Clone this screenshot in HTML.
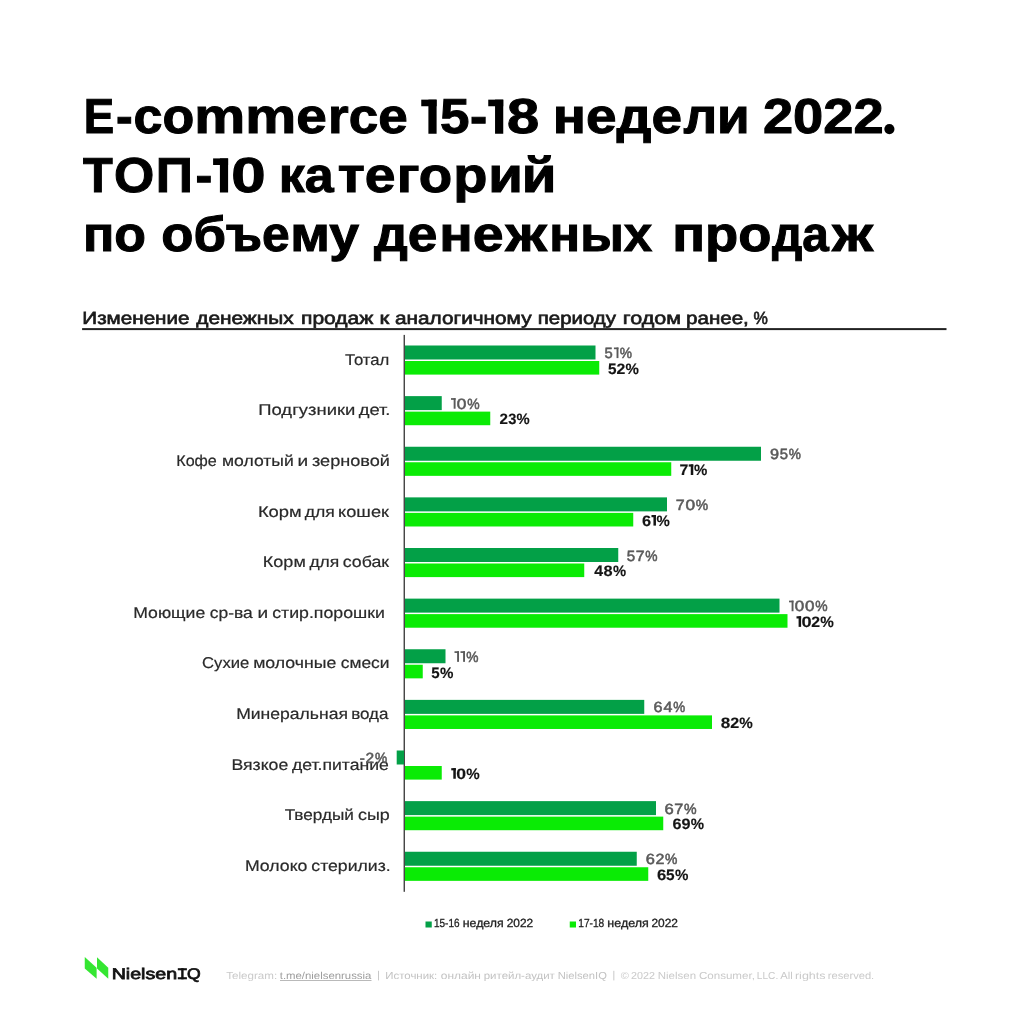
<!DOCTYPE html>
<html lang="ru"><head><meta charset="utf-8"><title>E-commerce 15-18 недели 2022</title>
<style>
html,body{margin:0;padding:0;background:#fff;}
body{width:1024px;height:1024px;overflow:hidden;font-family:"Liberation Sans",sans-serif;}
svg{display:block;will-change:transform;}
svg text{font-family:"Liberation Sans",sans-serif;text-rendering:geometricPrecision;}
</style></head><body>
<svg width="1024" height="1024" viewBox="0 0 1024 1024">
<rect width="1024" height="1024" fill="#fff"/>
<text x="83.75" y="133.45" font-size="49.2" fill="#000" textLength="30.42" lengthAdjust="spacingAndGlyphs" font-weight="bold" stroke="#000" stroke-width="1.0">E</text>
<text x="116.0" y="133.45" font-size="49.2" fill="#000" textLength="16.69" lengthAdjust="spacingAndGlyphs" font-weight="bold" stroke="#000" stroke-width="1.0">-</text>
<text x="133.5" y="133.45" font-size="49.2" fill="#000" textLength="60.72" lengthAdjust="spacingAndGlyphs" font-weight="bold" stroke="#000" stroke-width="1.0">co</text>
<text x="194.25" y="133.45" font-size="49.2" fill="#000" textLength="101.9" lengthAdjust="spacingAndGlyphs" font-weight="bold" stroke="#000" stroke-width="1.0">mm</text>
<text x="296.3" y="133.45" font-size="49.2" fill="#000" textLength="30.57" lengthAdjust="spacingAndGlyphs" font-weight="bold" stroke="#000" stroke-width="1.0">e</text>
<text x="328.1" y="133.45" font-size="49.2" fill="#000" textLength="79.66" lengthAdjust="spacingAndGlyphs" font-weight="bold" stroke="#000" stroke-width="1.0">rce</text>
<rect x="428.4" y="99.65" width="8.2" height="34.1" fill="#000"/>
<rect x="421.25" y="99.65" width="15.35" height="6.6" fill="#000"/>
<text x="440.0" y="133.45" font-size="49.2" fill="#000" textLength="29.51" lengthAdjust="spacingAndGlyphs" font-weight="bold" stroke="#000" stroke-width="1.0">5</text>
<text x="470.1" y="133.45" font-size="49.2" fill="#000" textLength="17.24" lengthAdjust="spacingAndGlyphs" font-weight="bold" stroke="#000" stroke-width="1.0">-</text>
<rect x="495.05" y="99.65" width="8.2" height="34.1" fill="#000"/>
<rect x="488.25" y="99.65" width="15.0" height="6.6" fill="#000"/>
<text x="507.0" y="133.45" font-size="49.2" fill="#000" textLength="32.18" lengthAdjust="spacingAndGlyphs" font-weight="bold" stroke="#000" stroke-width="1.0">8</text>
<text x="552.85" y="133.45" font-size="49.2" fill="#000" textLength="129.19" lengthAdjust="spacingAndGlyphs" font-weight="bold" stroke="#000" stroke-width="1.0">неде</text>
<text x="683.4" y="133.45" font-size="49.2" fill="#000" textLength="66.37" lengthAdjust="spacingAndGlyphs" font-weight="bold" stroke="#000" stroke-width="1.0">ли</text>
<text x="762.95" y="133.45" font-size="49.2" fill="#000" textLength="120.61" lengthAdjust="spacingAndGlyphs" font-weight="bold" stroke="#000" stroke-width="1.0">2022</text>
<circle cx="889.4" cy="129.1" r="5.1" fill="#000"/>
<text x="83.1" y="192.2" font-size="49.2" fill="#000" textLength="29.75" lengthAdjust="spacingAndGlyphs" font-weight="bold" stroke="#000" stroke-width="1.0">Т</text>
<text x="114.1" y="192.2" font-size="49.2" fill="#000" textLength="40.27" lengthAdjust="spacingAndGlyphs" font-weight="bold" stroke="#000" stroke-width="1.0">О</text>
<text x="155.75" y="192.2" font-size="49.2" fill="#000" textLength="37.14" lengthAdjust="spacingAndGlyphs" font-weight="bold" stroke="#000" stroke-width="1.0">П</text>
<text x="195.4" y="192.2" font-size="49.2" fill="#000" textLength="16.82" lengthAdjust="spacingAndGlyphs" font-weight="bold" stroke="#000" stroke-width="1.0">-</text>
<rect x="219.9" y="158.4" width="8.2" height="34.1" fill="#000"/>
<rect x="213.1" y="158.4" width="15.0" height="6.6" fill="#000"/>
<text x="231.35" y="192.2" font-size="49.2" fill="#000" textLength="34.36" lengthAdjust="spacingAndGlyphs" font-weight="bold" stroke="#000" stroke-width="1.0">0</text>
<text x="278.7" y="192.2" font-size="49.2" fill="#000" textLength="54.96" lengthAdjust="spacingAndGlyphs" font-weight="bold" stroke="#000" stroke-width="1.0">ка</text>
<text x="337.75" y="192.2" font-size="49.2" fill="#000" textLength="57.83" lengthAdjust="spacingAndGlyphs" font-weight="bold" stroke="#000" stroke-width="1.0">те</text>
<text x="396.75" y="192.2" font-size="49.2" fill="#000" textLength="55.54" lengthAdjust="spacingAndGlyphs" font-weight="bold" stroke="#000" stroke-width="1.0">го</text>
<text x="453.25" y="192.2" font-size="49.2" fill="#000" textLength="34.19" lengthAdjust="spacingAndGlyphs" font-weight="bold" stroke="#000" stroke-width="1.0">р</text>
<text x="488.15" y="192.2" font-size="49.2" fill="#000" textLength="34.68" lengthAdjust="spacingAndGlyphs" font-weight="bold" stroke="#000" stroke-width="1.0">и</text>
<text x="521.75" y="192.2" font-size="49.2" fill="#000" textLength="34.68" lengthAdjust="spacingAndGlyphs" font-weight="bold" stroke="#000" stroke-width="1.0">й</text>
<text x="82.9" y="251.2" font-size="49.2" fill="#000" textLength="63.01" lengthAdjust="spacingAndGlyphs" font-weight="bold" stroke="#000" stroke-width="1.0">по</text>
<text x="161.3" y="251.2" font-size="49.2" fill="#000" textLength="64.75" lengthAdjust="spacingAndGlyphs" font-weight="bold" stroke="#000" stroke-width="1.0">об</text>
<text x="225.75" y="251.2" font-size="49.2" fill="#000" textLength="63.94" lengthAdjust="spacingAndGlyphs" font-weight="bold" stroke="#000" stroke-width="1.0">ъе</text>
<text x="290.15" y="251.2" font-size="49.2" fill="#000" textLength="68.83" lengthAdjust="spacingAndGlyphs" font-weight="bold" stroke="#000" stroke-width="1.0">му</text>
<text x="374.05" y="251.2" font-size="49.2" fill="#000" textLength="63.41" lengthAdjust="spacingAndGlyphs" font-weight="bold" stroke="#000" stroke-width="1.0">де</text>
<text x="439.35" y="251.2" font-size="49.2" fill="#000" textLength="64.33" lengthAdjust="spacingAndGlyphs" font-weight="bold" stroke="#000" stroke-width="1.0">не</text>
<text x="505.4" y="251.2" font-size="49.2" fill="#000" textLength="41.29" lengthAdjust="spacingAndGlyphs" font-weight="bold" stroke="#000" stroke-width="1.0">ж</text>
<text x="549.3" y="251.2" font-size="49.2" fill="#000" textLength="102.93" lengthAdjust="spacingAndGlyphs" font-weight="bold" stroke="#000" stroke-width="1.0">ных</text>
<text x="672.25" y="251.2" font-size="49.2" fill="#000" textLength="99.27" lengthAdjust="spacingAndGlyphs" font-weight="bold" stroke="#000" stroke-width="1.0">про</text>
<text x="771.95" y="251.2" font-size="49.2" fill="#000" textLength="56.88" lengthAdjust="spacingAndGlyphs" font-weight="bold" stroke="#000" stroke-width="1.0">да</text>
<text x="832.3" y="251.2" font-size="49.2" fill="#000" textLength="40.77" lengthAdjust="spacingAndGlyphs" font-weight="bold" stroke="#000" stroke-width="1.0">ж</text>
<text x="82.35" y="323.9" font-size="17.6" fill="#1a1a1a" textLength="107.13" lengthAdjust="spacingAndGlyphs" stroke="#1a1a1a" stroke-width="0.65">Изменение</text>
<text x="196.25" y="323.9" font-size="17.6" fill="#1a1a1a" textLength="97.46" lengthAdjust="spacingAndGlyphs" stroke="#1a1a1a" stroke-width="0.65">денежных</text>
<text x="301.0" y="323.9" font-size="17.6" fill="#1a1a1a" textLength="72.39" lengthAdjust="spacingAndGlyphs" stroke="#1a1a1a" stroke-width="0.65">продаж</text>
<text x="379.5" y="323.9" font-size="17.6" fill="#1a1a1a" textLength="9.76" lengthAdjust="spacingAndGlyphs" stroke="#1a1a1a" stroke-width="0.65">к</text>
<text x="395.0" y="323.9" font-size="17.6" fill="#1a1a1a" textLength="136.56" lengthAdjust="spacingAndGlyphs" stroke="#1a1a1a" stroke-width="0.65">аналогичному</text>
<text x="537.75" y="323.9" font-size="17.6" fill="#1a1a1a" textLength="78.24" lengthAdjust="spacingAndGlyphs" stroke="#1a1a1a" stroke-width="0.65">периоду</text>
<text x="622.75" y="323.9" font-size="17.6" fill="#1a1a1a" textLength="58.24" lengthAdjust="spacingAndGlyphs" stroke="#1a1a1a" stroke-width="0.65">годом</text>
<text x="686.0" y="323.9" font-size="17.6" fill="#1a1a1a" textLength="62.84" lengthAdjust="spacingAndGlyphs" stroke="#1a1a1a" stroke-width="0.65">ранее,</text>
<text x="753.5" y="323.9" font-size="17.6" fill="#1a1a1a" textLength="14.35" lengthAdjust="spacingAndGlyphs" stroke="#1a1a1a" stroke-width="0.65">%</text>
<rect x="82.1" y="328.1" width="864.4" height="2" fill="#222"/>
<rect x="403.6" y="334.9" width="1.3" height="556.9" fill="#333"/>
<text x="345.0" y="364.7" font-size="15.6" fill="#2a2a2a" textLength="44.31" lengthAdjust="spacingAndGlyphs" stroke="#2a2a2a" stroke-width="0.2">Тотал</text>
<rect x="405" y="345.5" width="190.5" height="14.0" fill="#03A047"/>
<rect x="405" y="361.0" width="194.25" height="13.6" fill="#0AEB05"/>
<text x="604.55" y="358.1" font-size="14.8" fill="#5a5a5a" textLength="8.22" lengthAdjust="spacingAndGlyphs" stroke="#5a5a5a" stroke-width="0.55">5</text>
<rect x="616.55" y="347.5" width="1.9" height="10.6" fill="#5a5a5a"/>
<rect x="613.93" y="347.5" width="4.52" height="1.7" fill="#5a5a5a"/>
<text x="619.67" y="358.1" font-size="14.8" fill="#5a5a5a" textLength="12.23" lengthAdjust="spacingAndGlyphs" stroke="#5a5a5a" stroke-width="0.55">%</text>
<text x="608.1" y="373.75" font-size="15.1" fill="#151515" textLength="8.53" lengthAdjust="spacingAndGlyphs" font-weight="bold" stroke="#151515" stroke-width="0.15">5</text>
<text x="616.64" y="373.75" font-size="15.1" fill="#151515" textLength="8.84" lengthAdjust="spacingAndGlyphs" font-weight="bold" stroke="#151515" stroke-width="0.15">2</text>
<text x="625.53" y="373.75" font-size="15.1" fill="#151515" textLength="13.38" lengthAdjust="spacingAndGlyphs" font-weight="bold" stroke="#151515" stroke-width="0.15">%</text>
<text x="258.25" y="415.32" font-size="15.6" fill="#2a2a2a" textLength="97.18" lengthAdjust="spacingAndGlyphs" stroke="#2a2a2a" stroke-width="0.2">Подгузники</text>
<text x="358.7" y="415.32" font-size="15.6" fill="#2a2a2a" textLength="31.77" lengthAdjust="spacingAndGlyphs" stroke="#2a2a2a" stroke-width="0.2">дет.</text>
<rect x="405" y="396.12" width="36.75" height="14.0" fill="#03A047"/>
<rect x="405" y="411.62" width="85.25" height="13.6" fill="#0AEB05"/>
<rect x="453.67" y="398.13" width="1.9" height="10.6" fill="#5a5a5a"/>
<rect x="451.0" y="398.13" width="4.57" height="1.7" fill="#5a5a5a"/>
<text x="456.81" y="408.73" font-size="14.8" fill="#5a5a5a" textLength="9.61" lengthAdjust="spacingAndGlyphs" stroke="#5a5a5a" stroke-width="0.55">0</text>
<text x="467.23" y="408.73" font-size="14.8" fill="#5a5a5a" textLength="12.41" lengthAdjust="spacingAndGlyphs" stroke="#5a5a5a" stroke-width="0.55">%</text>
<text x="499.5" y="424.38" font-size="15.1" fill="#151515" textLength="8.47" lengthAdjust="spacingAndGlyphs" font-weight="bold" stroke="#151515" stroke-width="0.15">2</text>
<text x="508.17" y="424.38" font-size="15.1" fill="#151515" textLength="8.18" lengthAdjust="spacingAndGlyphs" font-weight="bold" stroke="#151515" stroke-width="0.15">3</text>
<text x="516.5" y="424.38" font-size="15.1" fill="#151515" textLength="13.16" lengthAdjust="spacingAndGlyphs" font-weight="bold" stroke="#151515" stroke-width="0.15">%</text>
<text x="176.25" y="465.95" font-size="15.6" fill="#2a2a2a" textLength="40.57" lengthAdjust="spacingAndGlyphs" stroke="#2a2a2a" stroke-width="0.2">Кофе</text>
<text x="222.0" y="465.95" font-size="15.6" fill="#2a2a2a" textLength="71.72" lengthAdjust="spacingAndGlyphs" stroke="#2a2a2a" stroke-width="0.2">молотый</text>
<text x="297.5" y="465.95" font-size="15.6" fill="#2a2a2a" textLength="10.66" lengthAdjust="spacingAndGlyphs" stroke="#2a2a2a" stroke-width="0.2">и</text>
<text x="312.0" y="465.95" font-size="15.6" fill="#2a2a2a" textLength="77.83" lengthAdjust="spacingAndGlyphs" stroke="#2a2a2a" stroke-width="0.2">зерновой</text>
<rect x="405" y="446.75" width="356" height="14.0" fill="#03A047"/>
<rect x="405" y="462.25" width="266.25" height="13.6" fill="#0AEB05"/>
<text x="770.0" y="459.35" font-size="14.8" fill="#5a5a5a" textLength="9.04" lengthAdjust="spacingAndGlyphs" stroke="#5a5a5a" stroke-width="0.55">9</text>
<text x="779.78" y="459.35" font-size="14.8" fill="#5a5a5a" textLength="8.26" lengthAdjust="spacingAndGlyphs" stroke="#5a5a5a" stroke-width="0.55">5</text>
<text x="788.83" y="459.35" font-size="14.8" fill="#5a5a5a" textLength="12.15" lengthAdjust="spacingAndGlyphs" stroke="#5a5a5a" stroke-width="0.55">%</text>
<text x="679.5" y="475.0" font-size="15.1" fill="#151515" textLength="8.84" lengthAdjust="spacingAndGlyphs" font-weight="bold" stroke="#151515" stroke-width="0.15">7</text>
<rect x="690.77" y="464.4" width="2.5" height="10.6" fill="#151515"/>
<rect x="688.72" y="464.4" width="4.55" height="2.2" fill="#151515"/>
<text x="693.95" y="475.0" font-size="15.1" fill="#151515" textLength="13.32" lengthAdjust="spacingAndGlyphs" font-weight="bold" stroke="#151515" stroke-width="0.15">%</text>
<text x="257.9" y="516.58" font-size="15.6" fill="#2a2a2a" textLength="43.79" lengthAdjust="spacingAndGlyphs" stroke="#2a2a2a" stroke-width="0.2">Корм</text>
<text x="304.75" y="516.58" font-size="15.6" fill="#2a2a2a" textLength="30.13" lengthAdjust="spacingAndGlyphs" stroke="#2a2a2a" stroke-width="0.2">для</text>
<text x="338.1" y="516.58" font-size="15.6" fill="#2a2a2a" textLength="50.84" lengthAdjust="spacingAndGlyphs" stroke="#2a2a2a" stroke-width="0.2">кошек</text>
<rect x="405" y="497.38" width="262" height="14.0" fill="#03A047"/>
<rect x="405" y="512.88" width="228.25" height="13.6" fill="#0AEB05"/>
<text x="675.75" y="509.98" font-size="14.8" fill="#5a5a5a" textLength="8.88" lengthAdjust="spacingAndGlyphs" stroke="#5a5a5a" stroke-width="0.55">7</text>
<text x="685.43" y="509.98" font-size="14.8" fill="#5a5a5a" textLength="9.61" lengthAdjust="spacingAndGlyphs" stroke="#5a5a5a" stroke-width="0.55">0</text>
<text x="695.84" y="509.98" font-size="14.8" fill="#5a5a5a" textLength="12.38" lengthAdjust="spacingAndGlyphs" stroke="#5a5a5a" stroke-width="0.55">%</text>
<text x="642.0" y="525.62" font-size="15.1" fill="#151515" textLength="9.14" lengthAdjust="spacingAndGlyphs" font-weight="bold" stroke="#151515" stroke-width="0.15">6</text>
<rect x="653.45" y="515.02" width="2.5" height="10.6" fill="#151515"/>
<rect x="651.47" y="515.02" width="4.48" height="2.2" fill="#151515"/>
<text x="656.62" y="525.62" font-size="15.1" fill="#151515" textLength="13.31" lengthAdjust="spacingAndGlyphs" font-weight="bold" stroke="#151515" stroke-width="0.15">%</text>
<text x="262.85" y="567.2" font-size="15.6" fill="#2a2a2a" textLength="42.94" lengthAdjust="spacingAndGlyphs" stroke="#2a2a2a" stroke-width="0.2">Корм</text>
<text x="309.4" y="567.2" font-size="15.6" fill="#2a2a2a" textLength="29.97" lengthAdjust="spacingAndGlyphs" stroke="#2a2a2a" stroke-width="0.2">для</text>
<text x="342.75" y="567.2" font-size="15.6" fill="#2a2a2a" textLength="46.33" lengthAdjust="spacingAndGlyphs" stroke="#2a2a2a" stroke-width="0.2">собак</text>
<rect x="405" y="548.0" width="213.25" height="14.0" fill="#03A047"/>
<rect x="405" y="563.5" width="179.25" height="13.6" fill="#0AEB05"/>
<text x="626.75" y="560.6" font-size="14.8" fill="#5a5a5a" textLength="8.41" lengthAdjust="spacingAndGlyphs" stroke="#5a5a5a" stroke-width="0.55">5</text>
<text x="635.71" y="560.6" font-size="14.8" fill="#5a5a5a" textLength="8.82" lengthAdjust="spacingAndGlyphs" stroke="#5a5a5a" stroke-width="0.55">7</text>
<text x="645.37" y="560.6" font-size="14.8" fill="#5a5a5a" textLength="12.28" lengthAdjust="spacingAndGlyphs" stroke="#5a5a5a" stroke-width="0.55">%</text>
<text x="594.25" y="576.25" font-size="15.1" fill="#151515" textLength="8.9" lengthAdjust="spacingAndGlyphs" font-weight="bold" stroke="#151515" stroke-width="0.15">4</text>
<text x="603.57" y="576.25" font-size="15.1" fill="#151515" textLength="9.08" lengthAdjust="spacingAndGlyphs" font-weight="bold" stroke="#151515" stroke-width="0.15">8</text>
<text x="612.93" y="576.25" font-size="15.1" fill="#151515" textLength="13.12" lengthAdjust="spacingAndGlyphs" font-weight="bold" stroke="#151515" stroke-width="0.15">%</text>
<text x="133.25" y="617.83" font-size="15.6" fill="#2a2a2a" textLength="71.98" lengthAdjust="spacingAndGlyphs" stroke="#2a2a2a" stroke-width="0.2">Моющие</text>
<text x="209.75" y="617.83" font-size="15.6" fill="#2a2a2a" textLength="43.01" lengthAdjust="spacingAndGlyphs" stroke="#2a2a2a" stroke-width="0.2">ср-ва</text>
<text x="257.5" y="617.83" font-size="15.6" fill="#2a2a2a" textLength="10.66" lengthAdjust="spacingAndGlyphs" stroke="#2a2a2a" stroke-width="0.2">и</text>
<text x="272.25" y="617.83" font-size="15.6" fill="#2a2a2a" textLength="112.62" lengthAdjust="spacingAndGlyphs" stroke="#2a2a2a" stroke-width="0.2">стир.порошки</text>
<rect x="405" y="598.62" width="374.5" height="14.0" fill="#03A047"/>
<rect x="405" y="614.12" width="382.5" height="13.6" fill="#0AEB05"/>
<rect x="791.6" y="600.63" width="1.9" height="10.6" fill="#5a5a5a"/>
<rect x="789" y="600.63" width="4.5" height="1.7" fill="#5a5a5a"/>
<text x="794.72" y="611.23" font-size="14.8" fill="#5a5a5a" textLength="9.46" lengthAdjust="spacingAndGlyphs" stroke="#5a5a5a" stroke-width="0.55">0</text>
<text x="804.99" y="611.23" font-size="14.8" fill="#5a5a5a" textLength="9.46" lengthAdjust="spacingAndGlyphs" stroke="#5a5a5a" stroke-width="0.55">0</text>
<text x="815.26" y="611.23" font-size="14.8" fill="#5a5a5a" textLength="12.37" lengthAdjust="spacingAndGlyphs" stroke="#5a5a5a" stroke-width="0.55">%</text>
<rect x="798.6" y="616.28" width="2.5" height="10.6" fill="#151515"/>
<rect x="796.5" y="616.28" width="4.6" height="2.2" fill="#151515"/>
<text x="801.54" y="626.88" font-size="15.1" fill="#151515" textLength="10.14" lengthAdjust="spacingAndGlyphs" font-weight="bold" stroke="#151515" stroke-width="0.15">0</text>
<text x="811.31" y="626.88" font-size="15.1" fill="#151515" textLength="8.82" lengthAdjust="spacingAndGlyphs" font-weight="bold" stroke="#151515" stroke-width="0.15">2</text>
<text x="820.29" y="626.88" font-size="15.1" fill="#151515" textLength="13.56" lengthAdjust="spacingAndGlyphs" font-weight="bold" stroke="#151515" stroke-width="0.15">%</text>
<text x="202.05" y="668.45" font-size="15.6" fill="#2a2a2a" textLength="47.29" lengthAdjust="spacingAndGlyphs" stroke="#2a2a2a" stroke-width="0.2">Сухие</text>
<text x="253.2" y="668.45" font-size="15.6" fill="#2a2a2a" textLength="83.19" lengthAdjust="spacingAndGlyphs" stroke="#2a2a2a" stroke-width="0.2">молочные</text>
<text x="340.75" y="668.45" font-size="15.6" fill="#2a2a2a" textLength="48.82" lengthAdjust="spacingAndGlyphs" stroke="#2a2a2a" stroke-width="0.2">смеси</text>
<rect x="405" y="649.25" width="40.5" height="14.0" fill="#03A047"/>
<rect x="405" y="664.75" width="17.75" height="13.6" fill="#0AEB05"/>
<rect x="457.11" y="651.25" width="1.9" height="10.6" fill="#5a5a5a"/>
<rect x="454.5" y="651.25" width="4.51" height="1.7" fill="#5a5a5a"/>
<rect x="463.1" y="651.25" width="1.9" height="10.6" fill="#5a5a5a"/>
<rect x="460.49" y="651.25" width="4.51" height="1.7" fill="#5a5a5a"/>
<text x="466.22" y="661.85" font-size="14.8" fill="#5a5a5a" textLength="12.23" lengthAdjust="spacingAndGlyphs" stroke="#5a5a5a" stroke-width="0.55">%</text>
<text x="431.25" y="677.5" font-size="15.1" fill="#151515" textLength="8.4" lengthAdjust="spacingAndGlyphs" font-weight="bold" stroke="#151515" stroke-width="0.15">5</text>
<text x="440.0" y="677.5" font-size="15.1" fill="#151515" textLength="13.42" lengthAdjust="spacingAndGlyphs" font-weight="bold" stroke="#151515" stroke-width="0.15">%</text>
<text x="236.15" y="719.08" font-size="15.6" fill="#2a2a2a" textLength="111.82" lengthAdjust="spacingAndGlyphs" stroke="#2a2a2a" stroke-width="0.2">Минеральная</text>
<text x="351.2" y="719.08" font-size="15.6" fill="#2a2a2a" textLength="37.26" lengthAdjust="spacingAndGlyphs" stroke="#2a2a2a" stroke-width="0.2">вода</text>
<rect x="405" y="699.88" width="239.25" height="14.0" fill="#03A047"/>
<rect x="405" y="715.38" width="307" height="13.6" fill="#0AEB05"/>
<text x="653.5" y="712.48" font-size="14.8" fill="#5a5a5a" textLength="8.98" lengthAdjust="spacingAndGlyphs" stroke="#5a5a5a" stroke-width="0.55">6</text>
<text x="663.41" y="712.48" font-size="14.8" fill="#5a5a5a" textLength="8.9" lengthAdjust="spacingAndGlyphs" stroke="#5a5a5a" stroke-width="0.55">4</text>
<text x="673.23" y="712.48" font-size="14.8" fill="#5a5a5a" textLength="11.94" lengthAdjust="spacingAndGlyphs" stroke="#5a5a5a" stroke-width="0.55">%</text>
<text x="720.75" y="728.12" font-size="15.1" fill="#151515" textLength="9.53" lengthAdjust="spacingAndGlyphs" font-weight="bold" stroke="#151515" stroke-width="0.15">8</text>
<text x="730.19" y="728.12" font-size="15.1" fill="#151515" textLength="8.99" lengthAdjust="spacingAndGlyphs" font-weight="bold" stroke="#151515" stroke-width="0.15">2</text>
<text x="739.22" y="728.12" font-size="15.1" fill="#151515" textLength="13.52" lengthAdjust="spacingAndGlyphs" font-weight="bold" stroke="#151515" stroke-width="0.15">%</text>
<text x="231.45" y="769.7" font-size="15.6" fill="#2a2a2a" textLength="56.83" lengthAdjust="spacingAndGlyphs" stroke="#2a2a2a" stroke-width="0.2">Вязкое</text>
<text x="291.9" y="769.7" font-size="15.6" fill="#2a2a2a" textLength="96.97" lengthAdjust="spacingAndGlyphs" stroke="#2a2a2a" stroke-width="0.2">дет.питание</text>
<rect x="396.7" y="750.5" width="7.3" height="14.0" fill="#03A047"/>
<rect x="405" y="766.0" width="36.75" height="13.6" fill="#0AEB05"/>
<text x="359.8" y="763.1" font-size="14.8" fill="#5a5a5a" textLength="5.1" lengthAdjust="spacingAndGlyphs" stroke="#5a5a5a" stroke-width="0.55">-</text>
<text x="365.55" y="763.1" font-size="14.8" fill="#5a5a5a" textLength="8.63" lengthAdjust="spacingAndGlyphs" stroke="#5a5a5a" stroke-width="0.55">2</text>
<text x="374.96" y="763.1" font-size="14.8" fill="#5a5a5a" textLength="12.21" lengthAdjust="spacingAndGlyphs" stroke="#5a5a5a" stroke-width="0.55">%</text>
<rect x="453.31" y="768.15" width="2.5" height="10.6" fill="#151515"/>
<rect x="451.25" y="768.15" width="4.56" height="2.2" fill="#151515"/>
<text x="456.24" y="778.75" font-size="15.1" fill="#151515" textLength="9.83" lengthAdjust="spacingAndGlyphs" font-weight="bold" stroke="#151515" stroke-width="0.15">0</text>
<text x="466.16" y="778.75" font-size="15.1" fill="#151515" textLength="13.44" lengthAdjust="spacingAndGlyphs" font-weight="bold" stroke="#151515" stroke-width="0.15">%</text>
<text x="284.65" y="820.33" font-size="15.6" fill="#2a2a2a" textLength="69.34" lengthAdjust="spacingAndGlyphs" stroke="#2a2a2a" stroke-width="0.2">Твердый</text>
<text x="357.95" y="820.33" font-size="15.6" fill="#2a2a2a" textLength="31.82" lengthAdjust="spacingAndGlyphs" stroke="#2a2a2a" stroke-width="0.2">сыр</text>
<rect x="405" y="801.12" width="251" height="14.0" fill="#03A047"/>
<rect x="405" y="816.62" width="258.25" height="13.6" fill="#0AEB05"/>
<text x="664.5" y="813.73" font-size="14.8" fill="#5a5a5a" textLength="9.23" lengthAdjust="spacingAndGlyphs" stroke="#5a5a5a" stroke-width="0.55">6</text>
<text x="674.28" y="813.73" font-size="14.8" fill="#5a5a5a" textLength="9.05" lengthAdjust="spacingAndGlyphs" stroke="#5a5a5a" stroke-width="0.55">7</text>
<text x="684.02" y="813.73" font-size="14.8" fill="#5a5a5a" textLength="12.6" lengthAdjust="spacingAndGlyphs" stroke="#5a5a5a" stroke-width="0.55">%</text>
<text x="672.5" y="829.38" font-size="15.1" fill="#151515" textLength="9.03" lengthAdjust="spacingAndGlyphs" font-weight="bold" stroke="#151515" stroke-width="0.15">6</text>
<text x="681.52" y="829.38" font-size="15.1" fill="#151515" textLength="9.03" lengthAdjust="spacingAndGlyphs" font-weight="bold" stroke="#151515" stroke-width="0.15">9</text>
<text x="690.79" y="829.38" font-size="15.1" fill="#151515" textLength="13.3" lengthAdjust="spacingAndGlyphs" font-weight="bold" stroke="#151515" stroke-width="0.15">%</text>
<text x="244.95" y="870.95" font-size="15.6" fill="#2a2a2a" textLength="62.48" lengthAdjust="spacingAndGlyphs" stroke="#2a2a2a" stroke-width="0.2">Молоко</text>
<text x="311.35" y="870.95" font-size="15.6" fill="#2a2a2a" textLength="79.37" lengthAdjust="spacingAndGlyphs" stroke="#2a2a2a" stroke-width="0.2">стерилиз.</text>
<rect x="405" y="851.75" width="231.75" height="14.0" fill="#03A047"/>
<rect x="405" y="867.25" width="243.25" height="13.6" fill="#0AEB05"/>
<text x="645.75" y="864.35" font-size="14.8" fill="#5a5a5a" textLength="9.13" lengthAdjust="spacingAndGlyphs" stroke="#5a5a5a" stroke-width="0.55">6</text>
<text x="655.41" y="864.35" font-size="14.8" fill="#5a5a5a" textLength="8.9" lengthAdjust="spacingAndGlyphs" stroke="#5a5a5a" stroke-width="0.55">2</text>
<text x="664.92" y="864.35" font-size="14.8" fill="#5a5a5a" textLength="12.39" lengthAdjust="spacingAndGlyphs" stroke="#5a5a5a" stroke-width="0.55">%</text>
<text x="657.0" y="880.0" font-size="15.1" fill="#151515" textLength="9.3" lengthAdjust="spacingAndGlyphs" font-weight="bold" stroke="#151515" stroke-width="0.15">6</text>
<text x="666.11" y="880.0" font-size="15.1" fill="#151515" textLength="8.57" lengthAdjust="spacingAndGlyphs" font-weight="bold" stroke="#151515" stroke-width="0.15">5</text>
<text x="674.92" y="880.0" font-size="15.1" fill="#151515" textLength="13.41" lengthAdjust="spacingAndGlyphs" font-weight="bold" stroke="#151515" stroke-width="0.15">%</text>
<rect x="425.5" y="921.5" width="6.25" height="6" fill="#03A047"/>
<text x="434.0" y="926.9" font-size="11.8" fill="#222" textLength="25.56" lengthAdjust="spacingAndGlyphs" stroke="#222" stroke-width="0.3">15-16</text>
<text x="462.75" y="926.9" font-size="11.8" fill="#222" textLength="40.9" lengthAdjust="spacingAndGlyphs" stroke="#222" stroke-width="0.3">неделя</text>
<text x="506.75" y="926.9" font-size="11.8" fill="#222" textLength="26.46" lengthAdjust="spacingAndGlyphs" stroke="#222" stroke-width="0.3">2022</text>
<rect x="569.75" y="921.5" width="6.25" height="6" fill="#0AEB05"/>
<text x="578.25" y="926.9" font-size="11.8" fill="#222" textLength="26.02" lengthAdjust="spacingAndGlyphs" stroke="#222" stroke-width="0.3">17-18</text>
<text x="607.35" y="926.9" font-size="11.8" fill="#222" textLength="41.47" lengthAdjust="spacingAndGlyphs" stroke="#222" stroke-width="0.3">неделя</text>
<text x="651.4" y="926.9" font-size="11.8" fill="#222" textLength="26.56" lengthAdjust="spacingAndGlyphs" stroke="#222" stroke-width="0.3">2022</text>
<polygon points="84.75,957.1 96.6,967.75 96.6,978.75 84.75,968.4" fill="#35E632"/>
<polygon points="97,957.3 108.25,967.75 108.25,978.75 97,968.4" fill="#35E632"/>
<text x="111.65" y="979.0" font-size="15.4" fill="#111" textLength="65.51" lengthAdjust="spacingAndGlyphs" stroke="#111" stroke-width="0.75">Nielsen</text>
<rect x="177.8" y="968.2" width="9.1" height="2.1" fill="#111"/>
<rect x="177.8" y="977.2" width="9.1" height="2.1" fill="#111"/>
<rect x="181.2" y="968.2" width="2.4" height="11.1" fill="#111"/>
<text x="187.1" y="979.0" font-size="15.4" fill="#111" textLength="13.69" lengthAdjust="spacingAndGlyphs" stroke="#111" stroke-width="0.75">Q</text>
<text x="226.25" y="978.75" font-size="10.2" fill="#cacaca" textLength="50.9" lengthAdjust="spacingAndGlyphs">Telegram:</text>
<text x="279.75" y="978.75" font-size="10.2" fill="#9c9c9c" textLength="91.65" lengthAdjust="spacingAndGlyphs">t.me/nielsenrussia</text>
<rect x="280" y="980.2" width="91.5" height="0.8" fill="#a8a8a8"/>
<rect x="378.1" y="970.8" width="0.9" height="9.6" fill="#c2c2c2"/>
<text x="385.25" y="978.75" font-size="10.2" fill="#c2c2c2" textLength="52.02" lengthAdjust="spacingAndGlyphs">Источник:</text>
<text x="440.75" y="978.75" font-size="10.2" fill="#c2c2c2" textLength="40.18" lengthAdjust="spacingAndGlyphs">онлайн</text>
<text x="483.75" y="978.75" font-size="10.2" fill="#c2c2c2" textLength="71.09" lengthAdjust="spacingAndGlyphs">ритейл-аудит</text>
<text x="557.75" y="978.75" font-size="10.2" fill="#c2c2c2" textLength="49.11" lengthAdjust="spacingAndGlyphs">NielsenIQ</text>
<rect x="613.4" y="970.8" width="0.9" height="9.6" fill="#c2c2c2"/>
<text x="620.85" y="978.75" font-size="10.2" fill="#cacaca" textLength="8.11" lengthAdjust="spacingAndGlyphs">©</text>
<text x="631.1" y="978.75" font-size="10.2" fill="#cacaca" textLength="23.92" lengthAdjust="spacingAndGlyphs">2022</text>
<text x="657.75" y="978.75" font-size="10.2" fill="#cacaca" textLength="38.27" lengthAdjust="spacingAndGlyphs">Nielsen</text>
<text x="698.9" y="978.75" font-size="10.2" fill="#cacaca" textLength="56.02" lengthAdjust="spacingAndGlyphs">Consumer,</text>
<text x="756.85" y="978.75" font-size="10.2" fill="#cacaca" textLength="21.37" lengthAdjust="spacingAndGlyphs">LLC.</text>
<text x="780.2" y="978.75" font-size="10.2" fill="#cacaca" textLength="12.49" lengthAdjust="spacingAndGlyphs">All</text>
<text x="794.95" y="978.75" font-size="10.2" fill="#cacaca" textLength="30.59" lengthAdjust="spacingAndGlyphs">rights</text>
<text x="827.75" y="978.75" font-size="10.2" fill="#cacaca" textLength="46.43" lengthAdjust="spacingAndGlyphs">reserved.</text>
</svg>
</body></html>
